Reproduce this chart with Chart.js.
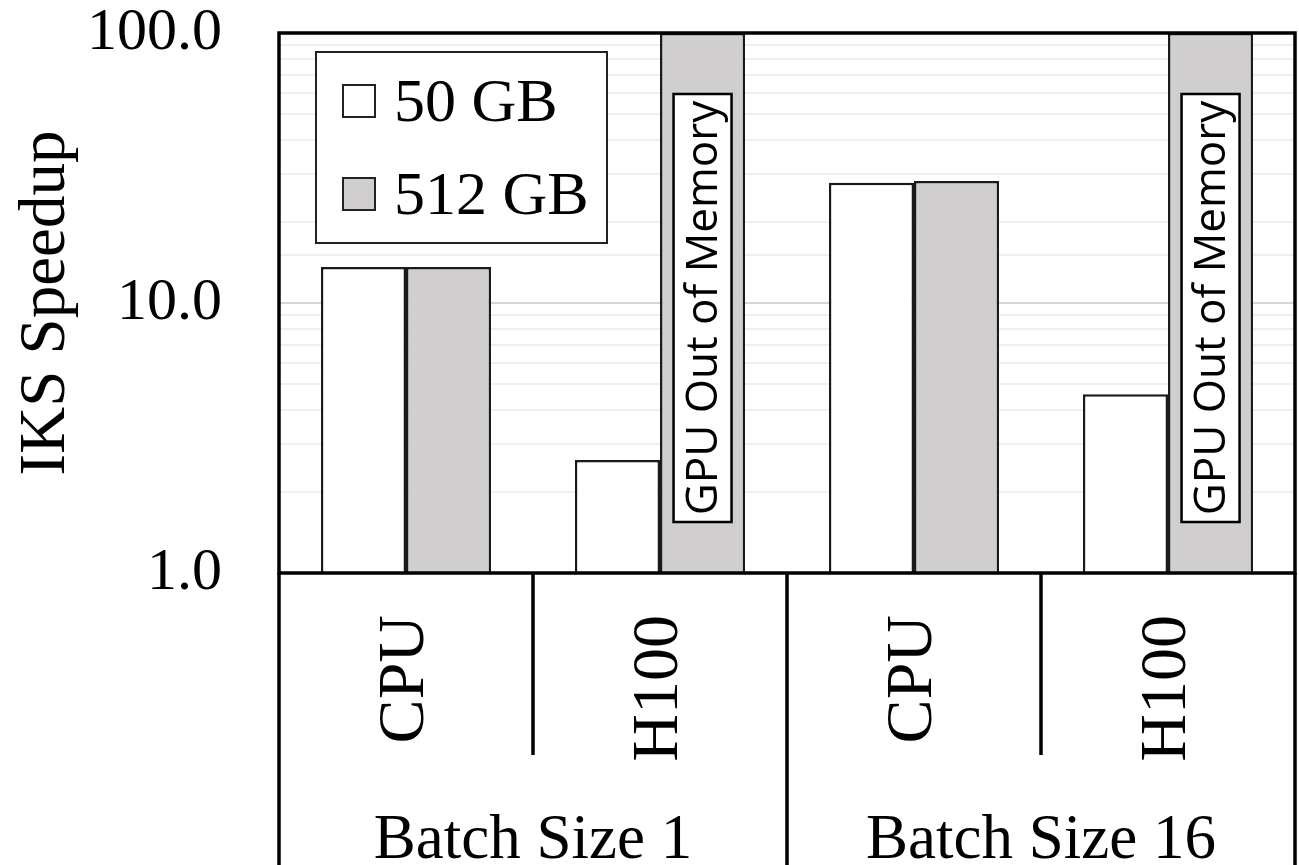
<!DOCTYPE html>
<html>
<head>
<meta charset="utf-8">
<script src="https://cdn.jsdelivr.net/npm/chart.js@4/dist/chart.umd.min.js"></script>
<style>
  html, body { margin: 0; padding: 0; background: #fff; }
  #wrap { width: 1299px; height: 865px; }
</style>
</head>
<body>
<div id="wrap"><canvas id="chart"></canvas></div>
<script>
const categories = ["CPU", "H100", "CPU", "H100"];
const groups = ["Batch Size 1", "Batch Size 16"];
const speedup50 = [13.6, 2.62, 27.9, 4.59];
const speedup512 = [13.6, 100, 28.3, 100];
const outOfMemory = [false, true, false, true];
const yTickLabels = [1, 10, 100];

const serif = "'Liberation Serif', 'Times New Roman', serif";

// frame, separators under the axis, group names, legend box
const framePlugin = {
  id: "frame",
  afterDatasetsDraw(chart) {
    const { ctx, chartArea: a } = chart;
    const meta = chart.getDatasetMeta(1);
    ctx.save();
    meta.data.forEach((bar, i) => {
      if (!outOfMemory[i]) return;
      const w = 58, top = a.top + 61, bottom = a.top + 489;
      ctx.fillStyle = "#fff";
      ctx.strokeStyle = "#000";
      ctx.lineWidth = 2.5;
      ctx.fillRect(bar.x - w / 2, top, w, bottom - top);
      ctx.strokeRect(bar.x - w / 2, top, w, bottom - top);
      ctx.translate(bar.x, (top + bottom) / 2);
      ctx.rotate(-Math.PI / 2);
      ctx.fillStyle = "#000";
      ctx.font = "44px 'Open Sans', sans-serif";
      ctx.textAlign = "center";
      ctx.textBaseline = "middle";
      ctx.fillText("GPU Out of Memory", 0, 2);
      ctx.setTransform(1, 0, 0, 1, 0, 0);
    });
    ctx.restore();
  },
  afterDraw(chart) {
    const { ctx, chartArea: a, scales: { x } } = chart;
    const H = chart.height;
    const mid = i => (x.getPixelForValue(i) + x.getPixelForValue(i + 1)) / 2;
    ctx.save();
    ctx.strokeStyle = "#000";
    ctx.lineWidth = 3.5;
    ctx.strokeRect(a.left, a.top, a.right - a.left, a.bottom - a.top);
    ctx.beginPath();
    ctx.moveTo(a.left, a.bottom); ctx.lineTo(a.left, H);
    ctx.moveTo(a.right, a.bottom); ctx.lineTo(a.right, H);
    ctx.moveTo(mid(1), a.bottom); ctx.lineTo(mid(1), H);
    ctx.moveTo(mid(0), a.bottom); ctx.lineTo(mid(0), 755);
    ctx.moveTo(mid(2), a.bottom); ctx.lineTo(mid(2), 755);
    ctx.stroke();

    ctx.fillStyle = "#000";
    ctx.font = "63px " + serif;
    ctx.textAlign = "center";
    ctx.textBaseline = "alphabetic";
    groups.forEach((g, k) => {
      const cx = (x.getPixelForValue(2 * k) + x.getPixelForValue(2 * k + 1)) / 2;
      ctx.fillText(g, cx, 858);
    });

    // legend
    const lx = a.left + 37, ly = a.top + 19;
    ctx.lineWidth = 2;
    ctx.strokeStyle = "#222";
    ctx.fillStyle = "#fff";
    ctx.fillRect(lx, ly, 291, 191);
    ctx.strokeRect(lx, ly, 291, 191);
    chart.data.datasets.forEach((ds, i) => {
      const sy = ly + 33 + i * 93;
      ctx.fillStyle = ds.backgroundColor;
      ctx.fillRect(lx + 27, sy, 32, 32);
      ctx.strokeStyle = "#222";
      ctx.strokeRect(lx + 27, sy, 32, 32);
      ctx.fillStyle = "#000";
      ctx.font = "62px " + serif;
      ctx.textAlign = "left";
      ctx.fillText(ds.label, lx + 78, sy + 36);
    });
    ctx.restore();
  }
};

function noPad(scale) {
  scale.paddingTop = 0;
  scale.paddingBottom = 0;
  scale.paddingLeft = 0;
  scale.paddingRight = 0;
}

new Chart(document.getElementById("chart"), {
  type: "bar",
  data: {
    labels: categories,
    datasets: [
      { label: "50 GB", data: speedup50, backgroundColor: "#ffffff", borderColor: "#1a1a1a", borderWidth: 2.5 },
      { label: "512 GB", data: speedup512, backgroundColor: "#d0cecf", borderColor: "#1a1a1a", borderWidth: 2.5 }
    ]
  },
  options: {
    responsive: true,
    maintainAspectRatio: false,
    animation: false,
    layout: { padding: { top: 33, right: 4, left: 0, bottom: 0 } },
    categoryPercentage: 0.67,
    barPercentage: 1.0,
    plugins: { legend: { display: false }, tooltip: { enabled: false } },
    scales: {
      x: {
        grid: { display: false, drawTicks: false },
        border: { display: false },
        ticks: {
          autoSkip: false,
          minRotation: 90,
          maxRotation: 90,
          padding: 42,
          color: "#000",
          font: { family: serif, size: 66 }
        },
        afterFit(scale) { scale.height = 292; noPad(scale); }
      },
      y: {
        type: "logarithmic",
        min: 1,
        max: 100,
        border: { display: false },
        grid: {
          drawTicks: false,
          lineWidth: 2,
          color: c => (c.tick && c.tick.value === 10 ? "#d6d6d6" : "#efefef")
        },
        ticks: {
          autoSkip: false,
          padding: 57,
          color: "#000",
          font: { family: serif, size: 60 },
          callback: v => (yTickLabels.includes(v) ? v.toFixed(1) : "")
        },
        title: {
          display: true,
          text: "IKS Speedup",
          color: "#000",
          font: { family: serif, size: 65 },
          padding: { top: 8, bottom: 0 }
        },
        afterFit(scale) { scale.width = 279; noPad(scale); }
      }
    }
  },
  plugins: [framePlugin]
});
</script>
</body>
</html>
